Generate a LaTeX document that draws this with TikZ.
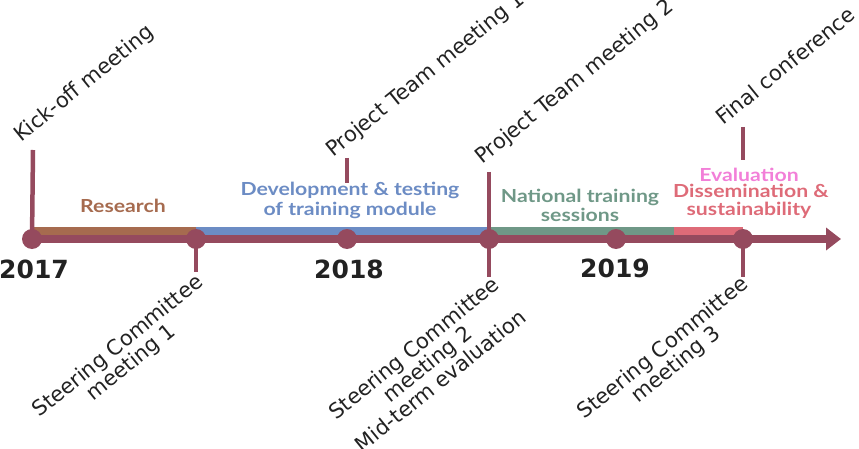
\documentclass[tikz,border=0pt]{standalone}
\usepackage{fontspec}
\usetikzlibrary{arrows.meta}
\newfontfamily\handfont{DejaVu Sans}
\newfontfamily\labelfont{Lato}[FakeStretch=1.18]
\definecolor{axis}{RGB}{149,74,94}
\definecolor{cresearch}{RGB}{166,107,79}
\definecolor{cdev}{RGB}{108,140,196}
\definecolor{cnat}{RGB}{111,152,135}
\definecolor{cdiss}{RGB}{222,107,120}
\definecolor{ceval}{RGB}{242,127,216}
\definecolor{ink}{RGB}{34,34,34}
\begin{document}
\begin{tikzpicture}[x=1pt,y=-1pt,
 dot/.style={circle,fill=axis,minimum size=20pt,inner sep=0pt},
 tickline/.style={draw=axis,line width=4.5pt},
 band/.style={line width=8pt},
 hand/.style={font=\handfont\fontsize{21}{21}\selectfont, text=ink, inner sep=0pt},
 uplabel/.style={hand, rotate=39, anchor=base west},
 downlabel/.style={hand, rotate=39, align=center, anchor=center},
 year/.style={font=\handfont\bfseries\fontsize{25}{28}\selectfont, text=ink, inner sep=0pt, anchor=base},
 phase/.style={font=\labelfont\bfseries\fontsize{18}{19}\selectfont, inner sep=0pt, anchor=base}]
\useasboundingbox (0,0) rectangle (859,449);
% band coordinates
\coordinate (b1) at (32,231);
\coordinate (b2) at (196,231);
\coordinate (b3) at (489,231);
\coordinate (b4) at (674,231);
\coordinate (b5) at (743,231);
\draw[band,cresearch] (b1) -- (b2);
\draw[band,cdev] (b2) -- (b3);
\draw[band,cnat] (b3) -- (b4);
\draw[band,cdiss] (b4) -- (b5);
% dot centres
\coordinate (p1) at (32,239);
\coordinate (p2) at (196,239);
\coordinate (p3) at (347,239);
\coordinate (p4) at (489,239);
\coordinate (p5) at (616,239);
\coordinate (p6) at (743,239);
% axis
\coordinate (tip) at (841,239);
\draw[axis,line width=8pt,-{Triangle[length=15pt,width=22pt]}] (p1) -- (tip);
% tick ends
\coordinate (t1) at (33,150);
\coordinate (t2) at (196,272);
\coordinate (t3a) at (347,158);
\coordinate (t3b) at (347,183);
\coordinate (t4a) at (489,172);
\coordinate (t4b) at (489,277);
\coordinate (t6a) at (743,127);
\coordinate (t6b) at (743,160);
\coordinate (t6c) at (743,277);
\draw[tickline] (t1) -- (p1);
\draw[tickline] (p2) -- (t2);
\draw[tickline] (t3a) -- (t3b);
\draw[tickline] (t4a) -- (t4b);
\draw[tickline] (t6a) -- (t6b);
\draw[tickline] (p6) -- (t6c);
% dots
\node[dot] (d1) at (p1) {};
\node[dot] (d2) at (p2) {};
\node[dot] (d3) at (p3) {};
\node[dot] (d4) at (p4) {};
\node[dot] (d5) at (p5) {};
\node[dot] (d6) at (p6) {};
% top labels
\node[uplabel] (kick) at (21,143) {Kick-off meeting};
\node[uplabel] (ptm1) at (333,158) {Project Team meeting 1};
\node[uplabel] (ptm2) at (482,165) {Project Team meeting 2};
\node[uplabel] (final) at (723,126) {Final conference};
% bottom labels
\node[downlabel] (sc1) at (125,355) {Steering Committee\\meeting 1};
\node[downlabel] (sc2) at (427,364) {Steering Committee\\meeting 2\\Mid-term evaluation};
\node[downlabel] (sc3) at (670,357) {Steering Committee\\meeting 3};
% years
\node[year] (y17) at (34,278) {2017};
\node[year] (y18) at (349,278) {2018};
\node[year] (y19) at (615,277) {2019};
% phases
\node[phase,text=cresearch] (res) at (123,213) {Research};
\node[phase,text=cdev] (dev1) at (350,196) {Development \& testing};
\node[phase,text=cdev] (dev2) at (350,215) {of training module};
\node[phase,text=cnat] (nat1) at (580,203) {National training};
\node[phase,text=cnat] (nat2) at (580,222) {sessions};
\node[phase,text=ceval] (eval) at (749,182) {Evaluation};
\node[phase,text=cdiss] (diss1) at (751,198) {Dissemination \&};
\node[phase,text=cdiss] (diss2) at (749,215) {sustainability};
\end{tikzpicture}
\end{document}
